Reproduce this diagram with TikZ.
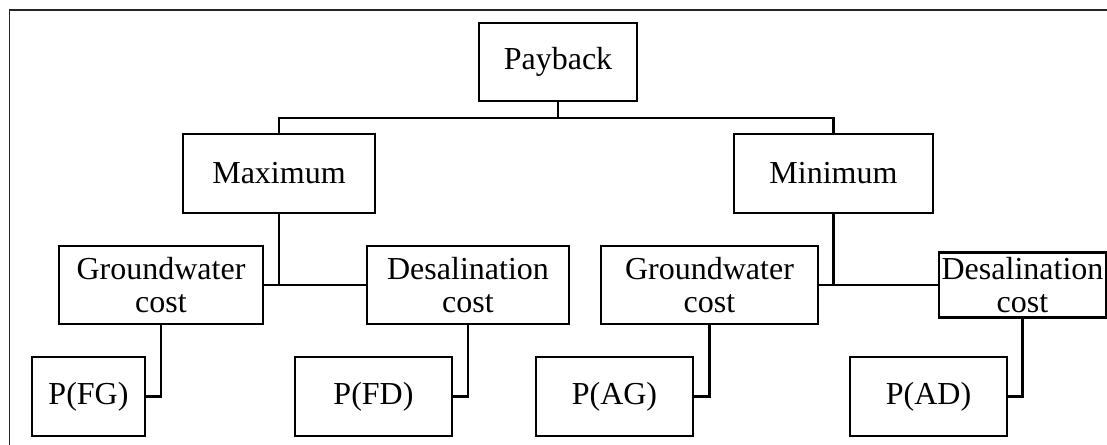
\documentclass[tikz,border=0pt]{standalone}
\usepackage{fontspec}
\setmainfont{Liberation Serif}
\begin{document}
\begin{tikzpicture}[x=1bp,y=-1bp,
  box/.style={draw=black,line width=2.8bp,inner sep=0pt,outer sep=0pt,align=center,
    font=\fontsize{32bp}{33bp}\selectfont},
  link/.style={draw=black,line width=2.8bp},
  frame/.style={draw=black!85,line width=1.4bp}]
\useasboundingbox (0,0) rectangle (1107,445);
\draw[frame] (9.5,445) -- (9.5,10) -- (1110,10);
\node[box,minimum width=158bp,minimum height=78bp] (pay) at (558,62) {Payback};
\node[box,minimum width=192bp,minimum height=79bp] (max) at (279,173.5) {Maximum};
\node[box,minimum width=199bp,minimum height=79bp] (min) at (833.5,173.5) {Minimum};
\node[box,minimum width=204bp,minimum height=78bp] (gw1) at (161,285) {Groundwater\\cost};
\node[box,minimum width=202bp,minimum height=78bp] (ds1) at (468,285) {Desalination\\cost};
\node[box,minimum width=217bp,minimum height=78bp] (gw2) at (709.5,285) {Groundwater\\cost};
\node[box,minimum width=167bp,minimum height=65bp] (ds2) at (1022.5,285) {Desalination\\cost};
\node[box,minimum width=113bp,minimum height=79bp] (pfg) at (88.5,396.5) {P(FG)};
\node[box,minimum width=157bp,minimum height=79bp] (pfd) at (373.5,396.5) {P(FD)};
\node[box,minimum width=157bp,minimum height=79bp] (pag) at (614.5,396.5) {P(AG)};
\node[box,minimum width=157bp,minimum height=79bp] (pad) at (928.5,396.5) {P(AD)};
\coordinate (j1) at (558,118);
\draw[link] (pay.south) -- (j1);
\draw[link] (max.north) |- (j1);
\draw[link] (min.north) |- (j1);
\draw[link] (max.south) -- (max.south |- gw1.east);
\draw[link] (gw1.east) -- (ds1.west);
\draw[link] (min.south) -- (min.south |- gw2.east);
\draw[link] (gw2.east) -- (ds2.west);
\draw[link] (gw1.south) |- (pfg.east);
\draw[link] (ds1.south) |- (pfd.east);
\draw[link] (gw2.south) |- (pag.east);
\draw[link] (ds2.south) |- (pad.east);
\end{tikzpicture}
\end{document}
